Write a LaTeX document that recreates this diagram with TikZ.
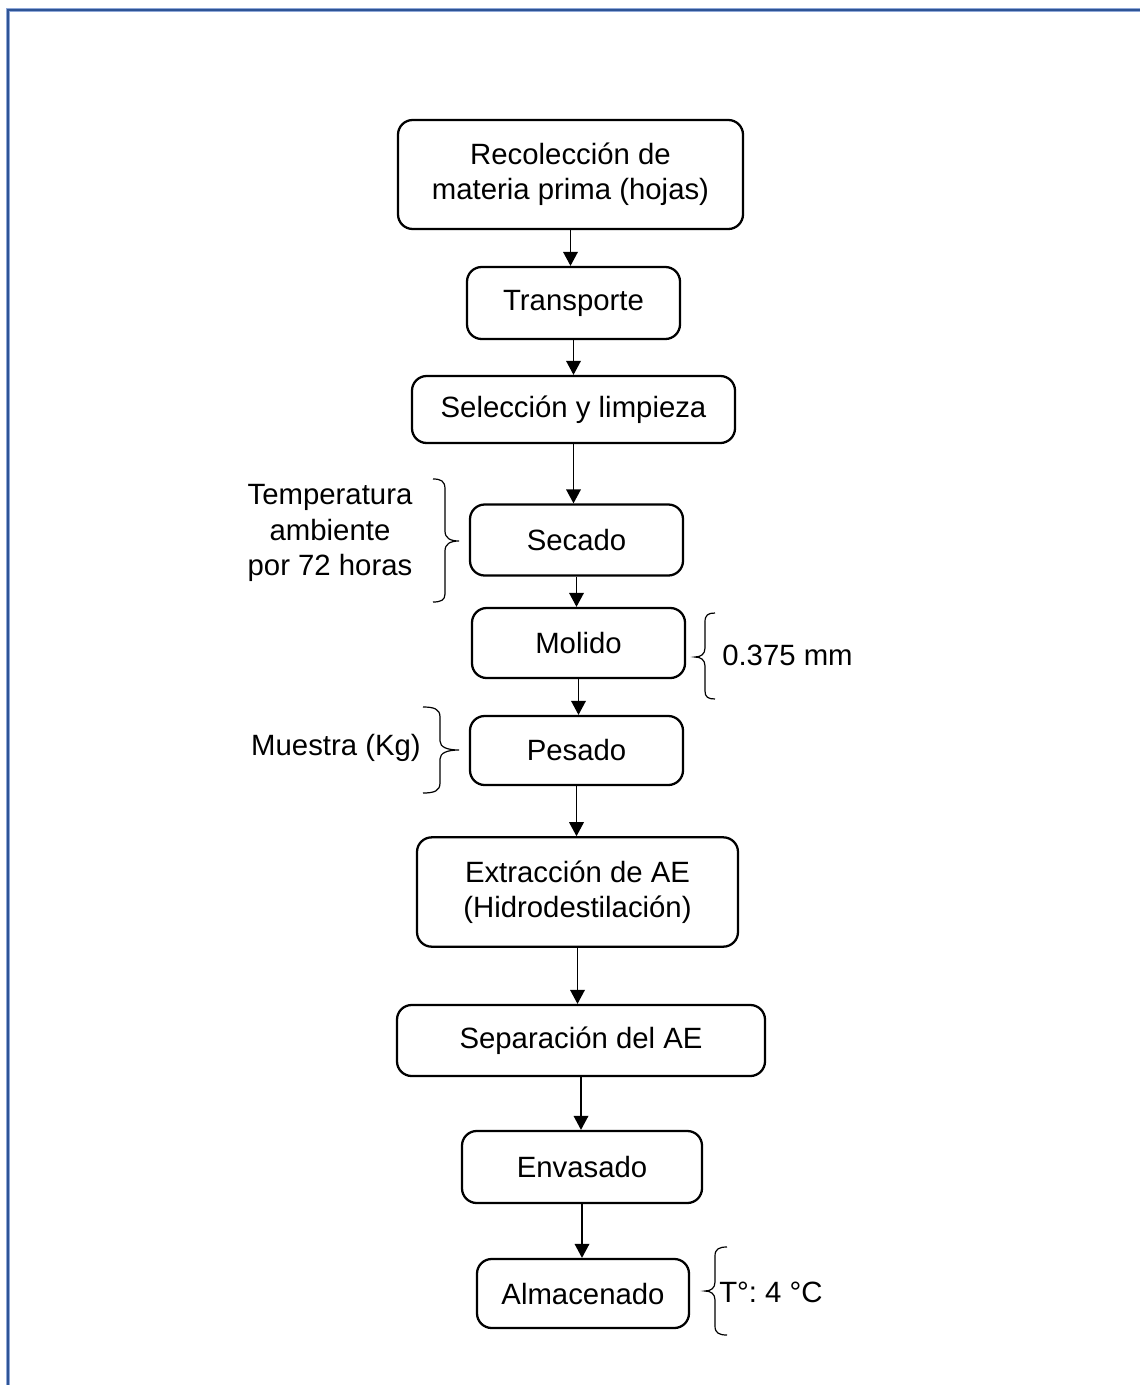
\documentclass[tikz,border=0pt]{standalone}
\usepackage{fontspec}
\setmainfont{Liberation Sans}
\usetikzlibrary{arrows.meta}
\definecolor{framedark}{RGB}{47,84,150}
\definecolor{framelight}{RGB}{143,168,216}
\frenchspacing
\begin{document}
\begin{tikzpicture}[x=0.75pt,y=-0.75pt,
  box/.style={draw=black, line width=1.7pt, rounded corners=11pt, inner sep=0pt,
    align=center, font=\fontsize{22}{26.3}\selectfont},
  lbl/.style={inner sep=0pt, align=center, font=\fontsize{22}{26.3}\selectfont},
  arr/.style={line width=1pt, -{Triangle[width=11pt,length=10.5pt]}},
  brc/.style={line width=0.9pt}]
\useasboundingbox (0,0) rectangle (1140,1385);
% frame
\draw[framelight, line width=1pt] (9.6,1385) -- (9.6,11.6) -- (1140,11.6);
\draw[framelight, line width=1pt] (6.8,1385) -- (6.8,8.6) -- (1140,8.6);
\draw[framedark, line width=1.8pt] (8,1385) -- (8,10) -- (1140,10);
% boxes
\node[box, minimum width=258.75pt, minimum height=81.75pt] (rec) at (570.5,174.5) {Recolección de\\materia prima (hojas)};
\node[box, minimum width=159.75pt, minimum height=54pt] (tra) at (573.5,303) {Transporte};
\node[box, minimum width=242.25pt, minimum height=50.25pt] (sel) at (573.5,409.5) {Selección y limpieza};
\node[box, minimum width=159.75pt, minimum height=53.25pt] (sec) at (576.5,540) {Secado};
\node[box, minimum width=159.75pt, minimum height=52.5pt] (mol) at (578.5,643) {Molido};
\node[box, minimum width=159.75pt, minimum height=51.75pt] (pes) at (576.5,750.5) {Pesado};
\node[box, minimum width=240.75pt, minimum height=82pt] (ext) at (577.5,892) {Extracción de AE\\(Hidrodestilación)};
\node[box, minimum width=276pt, minimum height=53.25pt] (sep) at (581,1040.5) {Separación del AE};
\node[box, minimum width=180pt, minimum height=54pt] (env) at (582,1167) {Envasado};
\node[box, minimum width=159pt, minimum height=51.75pt] (alm) at (583,1293.5) {Almacenado};
% arrows
\draw[arr] (rec.south) -- (rec.south |- tra.north);
\draw[arr] (tra.south) -- (tra.south |- sel.north);
\draw[arr] (sel.south) -- (sel.south |- sec.north);
\draw[arr] (sec.south) -- (sec.south |- mol.north);
\draw[arr] (mol.south) -- (mol.south |- pes.north);
\draw[arr] (pes.south) -- (pes.south |- ext.north);
\draw[arr] (ext.south) -- (ext.south |- sep.north);
\draw[arr] (sep.south) -- (sep.south |- env.north);
\draw[arr] (env.south) -- (env.south |- alm.north);
% labels
\node[lbl] (t1) at (330,533) {Temperatura\\ambiente\\por 72 horas};
\node[lbl, anchor=west] (t2) at (722,655) {0.375 mm};
\node[lbl] (t3) at (336,748) {Muestra (Kg)};
\node[lbl, anchor=west] (t4) at (719,1292) {T°: 4 °C};
% braces
\draw[brc] (433,479) .. controls (441,479) and (445,481) .. (445,489) -- (445,531)
  .. controls (445,538) and (450,541) .. (459,541)
  .. controls (450,541) and (445,544) .. (445,551) -- (445,594)
  .. controls (445,600) and (441,602) .. (433,602);
\draw[brc] (423,707) .. controls (434,707) and (440,709) .. (440,717) -- (440,741)
  .. controls (440,747) and (447,750) .. (459,750)
  .. controls (447,750) and (440,753) .. (440,759) -- (440,783)
  .. controls (440,791) and (434,793) .. (423,793);
\draw[brc] (715,613) .. controls (708,613) and (705,615) .. (705,622) -- (705,648)
  .. controls (705,654) and (701,657) .. (695,657)
  .. controls (701,657) and (705,660) .. (705,666) -- (705,691)
  .. controls (705,697) and (708,699) .. (715,699);
\draw[brc] (727,1247) .. controls (719,1247) and (715,1249) .. (715,1256) -- (715,1282)
  .. controls (715,1288) and (711,1291) .. (705,1291)
  .. controls (711,1291) and (715,1294) .. (715,1300) -- (715,1326)
  .. controls (715,1333) and (719,1335) .. (727,1335);
\end{tikzpicture}
\end{document}
